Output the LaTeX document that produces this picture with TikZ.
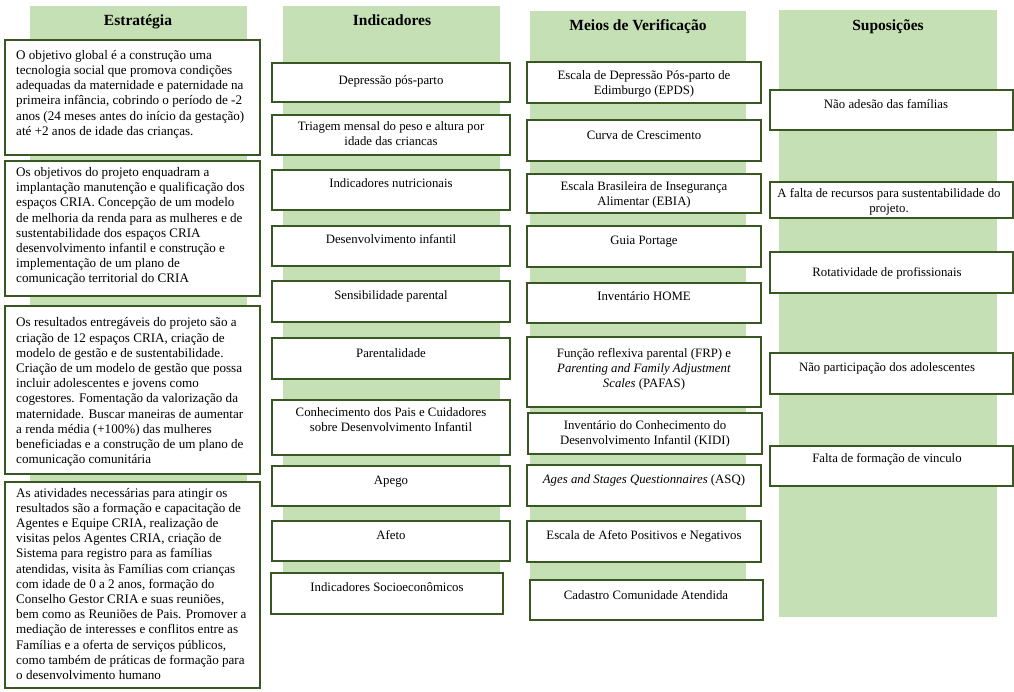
\documentclass[tikz,border=0pt]{standalone}
\usepackage{fontspec}
\setmainfont{Liberation Serif}
\definecolor{cellline}{RGB}{56,87,35}
\definecolor{colgreen}{RGB}{197,224,180}
\tikzset{
  colband/.style={fill=colgreen},
  cellbox/.style={draw=cellline, line width=2.2pt, fill=white, rectangle, inner sep=0pt, outer sep=0pt},
  head/.style={font=\fontsize{15.5}{18}\selectfont\bfseries, inner sep=0pt},
  celltext/.style={font=\fontsize{12.8}{15.2}\selectfont, align=center, inner sep=0pt,
    execute at begin node=\strut, execute at end node=\strut},
  lefttext/.style={celltext, font=\fontsize{13.1}{15.2}\selectfont, align=left, anchor=west},
}
% box: name, left, top, right, bottom
\newcommand\Cell[5]{\node[cellbox, anchor=north west, minimum width={#4-#2}, minimum height={#5-#3}] (#1) at (#2,#3) {};}
\begin{document}
\begin{tikzpicture}[x=1pt,y=-1pt]
\useasboundingbox (0,0) rectangle (1014,691);

% column bands
\fill[colband] (30,6) rectangle (247,685);
\fill[colband] (283,6) rectangle (500,590);
\fill[colband] (530,11) rectangle (746,600);
\fill[colband] (779,10) rectangle (997,617);

% column headings
\node[head] (hE) at (138,22) {Estratégia};
\node[head] (hI) at (392,20) {Indicadores};
\node[head] (hM) at (638,27) {Meios de Verificação};
\node[head] (hS) at (888,27) {Suposições};

% Estratégia
\Cell{e1}{5}{40}{260}{155}
\Cell{e2}{5}{161}{260}{296}
\Cell{e3}{5}{306}{260}{474}
\Cell{e4}{5}{482}{260}{688}
\node[lefttext] (e1t) at (16,95) {O objetivo global é a construção uma\\
tecnologia social que promova condições\\
adequadas da maternidade e paternidade na\\
primeira infância, cobrindo o período de -2\\
anos (24 meses antes do início da gestação)\\
até +2 anos de idade das crianças.};
\node[lefttext] (e2t) at (16,227.5) {Os objetivos do projeto enquadram a\\
implantação manutenção e qualificação dos\\
espaços CRIA. Concepção de um modelo\\
de melhoria da renda para as mulheres e de\\
sustentabilidade dos espaços CRIA\\
desenvolvimento infantil e construção e\\
implementação de um plano de\\
comunicação territorial do CRIA};
\node[lefttext] (e3t) at (16,393) {Os resultados entregáveis do projeto são a\\
criação de 12 espaços CRIA, criação de\\
modelo de gestão e de sustentabilidade.\\
Criação de um modelo de gestão que possa\\
incluir adolescentes e jovens como\\
cogestores. Fomentação da valorização da\\
maternidade. Buscar maneiras de aumentar\\
a renda média (+100\%) das mulheres\\
beneficiadas e a construção de um plano de\\
comunicação comunitária};
\node[lefttext] (e4t) at (16,586) {As atividades necessárias para atingir os\\
resultados são a formação e capacitação de\\
Agentes e Equipe CRIA, realização de\\
visitas pelos Agentes CRIA, criação de\\
Sistema para registro para as famílias\\
atendidas, visita às Famílias com crianças\\
com idade de 0 a 2 anos, formação do\\
Conselho Gestor CRIA e suas reuniões,\\
bem como as Reuniões de Pais. Promover a\\
mediação de interesses e conflitos entre as\\
Famílias e a oferta de serviços públicos,\\
como também de práticas de formação para\\
o desenvolvimento humano};

% Indicadores
\Cell{i1}{272}{63}{510}{102}
\Cell{i2}{272}{115}{510}{155}
\Cell{i3}{272}{170}{510}{210}
\Cell{i4}{272}{226}{510}{266}
\Cell{i5}{272}{281}{510}{322}
\Cell{i6}{272}{338}{510}{379}
\Cell{i7}{272}{400}{510}{455}
\Cell{i8}{272}{466}{510}{506}
\Cell{i9}{272}{521}{510}{561}
\Cell{i10}{271}{573}{503}{614}
\node[celltext] (i1t) at (391,81) {Depressão pós-parto};
\node[celltext] (i2t) at (391,136) {Triagem mensal do peso e altura por\\idade das criancas};
\node[celltext] (i3t) at (391,184.5) {Indicadores nutricionais};
\node[celltext] (i4t) at (391,240) {Desenvolvimento infantil};
\node[celltext] (i5t) at (391,296) {Sensibilidade parental};
\node[celltext] (i6t) at (391,354) {Parentalidade};
\node[celltext] (i7t) at (391,421.5) {Conhecimento dos Pais e Cuidadores\\sobre Desenvolvimento Infantil};
\node[celltext] (i8t) at (391,481.5) {Apego};
\node[celltext] (i9t) at (391,536.5) {Afeto};
\node[celltext] (i10t) at (387,588.5) {Indicadores Socioeconômicos};

% Meios de Verificação
\Cell{m1}{527}{62}{761}{103}
\Cell{m2}{527}{120}{761}{161}
\Cell{m3}{527}{174}{761}{213}
\Cell{m4}{527}{226}{761}{267}
\Cell{m5}{527}{283}{761}{323}
\Cell{m6}{527}{337}{761}{407}
\Cell{m7}{528}{413}{762}{454}
\Cell{m8}{527}{465}{761}{506}
\Cell{m9}{527}{521}{761}{562}
\Cell{m10}{530}{580}{763}{620}
\node[celltext] (m1t) at (644,84.5) {Escala de Depressão Pós-parto de\\Edimburgo (EPDS)};
\node[celltext] (m2t) at (644,136) {Curva de Crescimento};
\node[celltext] (m3t) at (644,195.5) {Escala Brasileira de Insegurança\\Alimentar (EBIA)};
\node[celltext] (m4t) at (644,241) {Guia Portage};
\node[celltext] (m5t) at (644,297.5) {Inventário HOME};
\node[celltext] (m6t) at (644,370.3) {Função reflexiva parental (FRP) e\\\textit{Parenting and Family Adjustment}\\\textit{Scales} (PAFAS)};
\node[celltext] (m7t) at (645,435) {Inventário do Conhecimento do\\Desenvolvimento Infantil (KIDI)};
\node[celltext] (m8t) at (644,480.7) {\textit{Ages and Stages Questionnaires} (ASQ)};
\node[celltext] (m9t) at (644,536.7) {Escala de Afeto Positivos e Negativos};
\node[celltext] (m10t) at (646,596) {Cadastro Comunidade Atendida};

% Suposições
\Cell{s1}{770}{90}{1013}{130}
\Cell{s2}{770}{182}{1013}{218}
\Cell{s3}{770}{252}{1013}{293}
\Cell{s4}{770}{353}{1013}{394}
\Cell{s5}{770}{446}{1013}{486}
\node[celltext] (s1t) at (886,105) {Não adesão das famílias};
\node[celltext] (s2t) at (889,202.5) {A falta de recursos para sustentabilidade do\\projeto.};
\node[celltext] (s3t) at (887,273.5) {Rotatividade de profissionais};
\node[celltext] (s4t) at (887,368.3) {Não participação dos adolescentes};
\node[celltext] (s5t) at (887,459.3) {Falta de formação de vinculo};
\end{tikzpicture}
\end{document}
